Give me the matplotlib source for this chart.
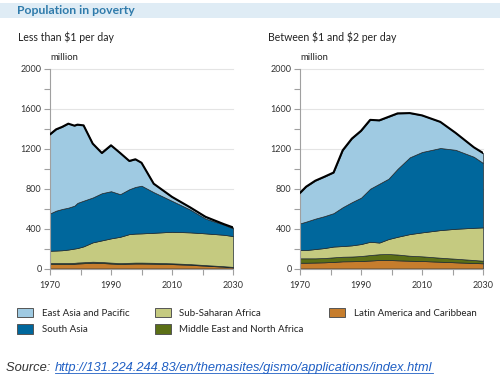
import matplotlib
matplotlib.use("Agg")
import matplotlib.pyplot as plt
from matplotlib.patches import Patch, Rectangle

# ---------------- data ----------------
regions = ["East Asia and Pacific", "South Asia", "Sub-Saharan Africa",
           "Middle East and North Africa", "Latin America and Caribbean"]

years_l = [1970, 1972, 1974, 1976, 1978, 1979, 1981, 1984, 1987, 1990,
           1993, 1996, 1998, 2000, 2004, 2010, 2016, 2021, 2027, 2030]
la_l  = [45, 45, 45, 45, 47, 50, 53, 58, 55, 50, 45, 48, 50, 50, 48, 44, 37, 28, 18, 12]
me_l  = [10, 10, 10, 10, 10, 10, 10, 10, 10, 9, 9, 9, 9, 9, 9, 8, 7, 6, 5, 4]
ssa_l = [123, 125, 128, 135, 143, 145, 159, 194, 217, 243, 264, 288, 291, 293, 301, 316, 318, 318, 315, 309]
sa_l  = [374, 400, 414, 420, 430, 453, 458, 450, 473, 473, 427, 450, 468, 478, 407, 310, 228, 148, 102, 77]
ea_l  = [793, 815, 823, 842, 802, 784, 755, 540, 403, 460, 413, 283, 277, 230, 85, 40, 22, 18, 5, 10]

years_r = [1970, 1972, 1975, 1978, 1981, 1984, 1987, 1990, 1993, 1996,
           1999, 2002, 2006, 2010, 2016, 2021, 2027, 2030]
la_r  = [58, 58, 60, 62, 66, 72, 73, 75, 80, 85, 85, 82, 78, 75, 68, 62, 55, 52]
me_r  = [44, 44, 42, 43, 46, 46, 47, 50, 55, 58, 60, 58, 50, 47, 40, 36, 30, 26]
ssa_r = [83, 83, 93, 100, 108, 107, 112, 120, 133, 117, 150, 178, 217, 240, 277, 300, 323, 334]
sa_r  = [267, 285, 305, 320, 335, 390, 433, 465, 532, 590, 605, 682, 770, 806, 823, 792, 712, 646]
ea_r  = [306, 350, 380, 395, 407, 570, 637, 670, 690, 635, 620, 555, 443, 367, 262, 170, 95, 100]

panel_titles = ["Less than \\$1 per day", "Between \\$1 and \\$2 per day"]
yticks = [0, 400, 800, 1200, 1600, 2000]
xticks = [1970, 1990, 2010, 2030]
source_url = "http://131.224.244.83/en/themasites/gismo/applications/index.html"

colors = {
    "East Asia and Pacific": "#9fcae2",
    "South Asia": "#00679c",
    "Sub-Saharan Africa": "#c5ca80",
    "Middle East and North Africa": "#5b6f16",
    "Latin America and Caribbean": "#c67d2d",
}

plt.rcParams['font.family'] = ['Lato', 'DejaVu Sans']

W, H = 500, 380
fig = plt.figure(figsize=(W / 100, H / 100), dpi=100)

# title band
fig.patches.append(Rectangle((0, 1 - 18 / H), 1, 15 / H, transform=fig.transFigure,
                             facecolor="#dfecf5", edgecolor="none", zorder=0))
fig.text(17 / W, 1 - 10.5 / H, "Population in poverty", fontsize=8.8, fontweight="bold",
         color="#2f7bab", va="center", ha="left")

panels = [
    (50, years_l, [la_l, me_l, ssa_l, sa_l, ea_l]),
    (300, years_r, [la_r, me_r, ssa_r, sa_r, ea_r]),
]
order = ["Latin America and Caribbean", "Middle East and North Africa",
         "Sub-Saharan Africa", "South Asia", "East Asia and Pacific"]

for i, (x0, yrs, series) in enumerate(panels):
    ax = fig.add_axes([x0 / W, 1 - 268.5 / H, 183 / W, 199.5 / H])
    ax.set_xlim(1970, 2030)
    ax.set_ylim(0, 2000)
    for y in yticks[1:]:
        ax.axhline(y, color="#e4e4e4", lw=0.8, zorder=0, clip_on=False)
    ax.stackplot(yrs, *series, colors=[colors[r] for r in order],
                 edgecolor="#1e2a30", linewidth=0.5, zorder=2)
    total = [sum(v) for v in zip(*series)]
    ax.plot(yrs, total, color="black", lw=1.5, zorder=3, solid_joinstyle="round")
    for s in ["top", "right"]:
        ax.spines[s].set_visible(False)
    ax.spines["left"].set_color("#a0a0a0")
    ax.spines["bottom"].set_color("#a0a0a0")
    ax.set_yticks(yticks)
    ax.set_yticks(range(0, 2001, 200), minor=True)
    ax.set_xticks(xticks)
    ax.set_xticks(range(1970, 2031, 10), minor=True)
    ax.tick_params(axis="both", which="both", color="#a0a0a0", length=4, width=0.8,
                   labelsize=6.5, labelcolor="#333333")
    ax.tick_params(axis="y", which="major", pad=2)
    ax.tick_params(axis="x", which="major", pad=5)
    ax.set_axisbelow(False)
    fig.text((x0 - 32) / W, 1 - 37 / H, panel_titles[i], fontsize=7.6, color="#222222",
             va="center", ha="left")
    fig.text(x0 / W, 1 - 57 / H, "million", fontsize=6.8, color="#222222",
             va="center", ha="left")

handles = [Patch(facecolor=colors[r], edgecolor="#555555", linewidth=0.7) for r in regions]
fig.legend(handles, regions, loc="upper left", bbox_to_anchor=(17 / W, 1 - 308 / H),
           ncol=3, frameon=False, fontsize=7.0, borderpad=0, borderaxespad=0,
           handlelength=1.65, handleheight=1.1, handletextpad=0.9,
           columnspacing=2.6, labelspacing=0.65, labelcolor="#222222")

# source line
src_font = dict(fontsize=9.3, style="italic", family=["Liberation Sans", "DejaVu Sans"],
                va="baseline", ha="left")
yb = 1 - 371 / H
t1 = fig.text(6 / W, yb, "Source: ", color="#333333", **src_font)
fig.canvas.draw()
r = fig.canvas.get_renderer()
bb = t1.get_window_extent(r)
x_link = bb.x1 / W + 1 / W
t2 = fig.text(x_link, yb, source_url, color="#1f5fc4", **src_font)
bb2 = t2.get_window_extent(r)
fig.add_artist(plt.Line2D([x_link, bb2.x1 / W], [yb - 2 / H, yb - 2 / H],
                          transform=fig.transFigure, color="#1f5fc4", lw=0.6))

fig.savefig("out.png", dpi=100)
